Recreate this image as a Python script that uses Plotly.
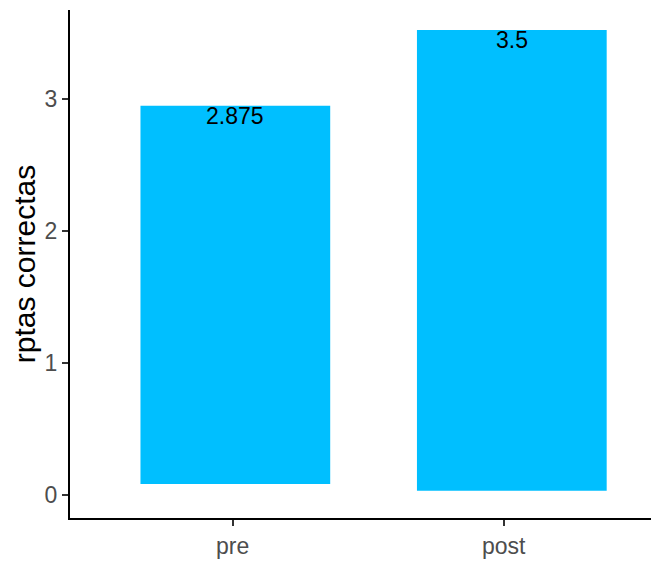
import plotly.graph_objects as go

# data
categories = ["pre", "post"]
cat_pos = [1, 2]
bar_base = [0.083, 0.033]
bar_top = [2.949, 3.523]
labels = ["2.875", "3.5"]
y_ticks = [0, 1, 2, 3]

heights = [t - b for t, b in zip(bar_top, bar_base)]

font_family = "Liberation Sans, Arial, sans-serif"

fig = go.Figure()
fig.add_trace(go.Bar(
    x=cat_pos,
    y=heights,
    base=bar_base,
    width=0.7,
    offset=[-0.34, -0.32],
    marker=dict(color="#00BFFF", line=dict(width=0)),
    showlegend=False,
    hoverinfo="skip",
))

bar_centers = [p + o + 0.35 for p, o in zip(cat_pos, [-0.34, -0.32])]
for xc, yt, lab in zip(bar_centers, bar_top, labels):
    fig.add_annotation(
        x=xc, y=yt, text=lab, showarrow=False,
        xanchor="center", yanchor="middle", yshift=-10.5,
        font=dict(family=font_family, size=23, color="black"),
    )

# the page body has an 8px margin, so the figure is drawn 8px right/down
fig.update_layout(
    width=651, height=555,
    margin=dict(l=62, r=0, t=2, b=45, autoexpand=False),
    plot_bgcolor="white", paper_bgcolor="white",
    font=dict(family=font_family),
    xaxis=dict(
        range=[0.4, 2.573], automargin=False,
        tickmode="array", tickvals=cat_pos, ticktext=categories,
        showline=True, linecolor="black", linewidth=2,
        ticks="outside", ticklen=6, tickwidth=1.5, tickcolor="#333333",
        tickfont=dict(size=23, color="#4d4d4d", family=font_family),
        showgrid=False, zeroline=False,
    ),
    yaxis=dict(
        range=[-0.174, 3.674], automargin=False,
        tickmode="array", tickvals=y_ticks, ticktext=[str(v) for v in y_ticks],
        showline=True, linecolor="black", linewidth=2,
        ticks="outside", ticklen=6, tickwidth=1.5, tickcolor="#333333",
        tickfont=dict(size=23, color="#4d4d4d", family=font_family),
        showgrid=False, zeroline=False,
        title=dict(text="rptas correctas", font=dict(size=30, color="black", family=font_family), standoff=11),
    ),
)

fig.write_html("out.html")
